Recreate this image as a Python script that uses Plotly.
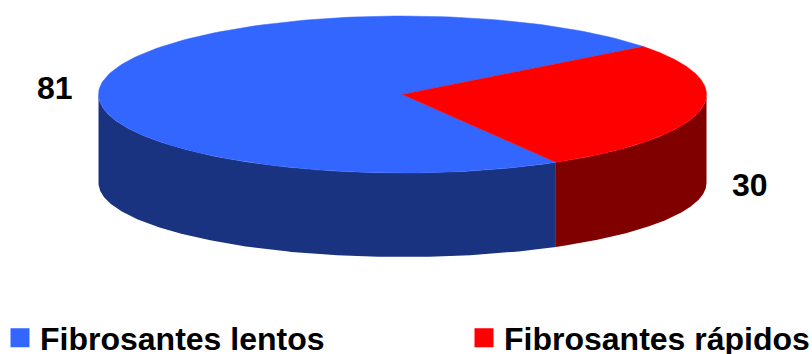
import math
import plotly.graph_objects as go

# ---- data ----
categories = ["Fibrosantes lentos", "Fibrosantes rápidos"]
values = [81, 30]
top_colors = ["#3366FF", "#FF0000"]
side_colors = ["#1A3380", "#800000"]

# ---- geometry (pixel space) ----
W, H = 812, 354
cx, cy = 402.5, 94.5
rx, ry = 304.0, 78.5
cy_b, ry_b = 183.0, 74.0      # bottom ellipse (slight perspective)
start_deg = 37.6              # first slice starts here, counter-clockwise

total = sum(values)
angles = []
a = start_deg
for v in values:
    span = v / total * 360.0
    angles.append((a, a + span))
    a += span


def top_pt(t):
    r = math.radians(t)
    return cx + rx * math.cos(r), cy - ry * math.sin(r)


def bot_pt(t):
    r = math.radians(t)
    return cx + rx * math.cos(r), cy_b - ry_b * math.sin(r)


def arc(fn, a0, a1, n=200):
    xs, ys = [], []
    for i in range(n + 1):
        t = a0 + (a1 - a0) * i / n
        x, y = fn(t)
        xs.append(x)
        ys.append(y)
    return xs, ys


fig = go.Figure()

# side faces (front half: 180..360 degrees)
for (a0, a1), col in zip(angles, side_colors):
    segs = []
    for k in (-360, 0, 360):
        lo = max(a0 + k, 180)
        hi = min(a1 + k, 360)
        if hi > lo:
            segs.append((lo, hi))
    for lo, hi in segs:
        xt, yt = arc(top_pt, lo, hi)
        xb, yb = arc(bot_pt, hi, lo)
        fig.add_trace(go.Scatter(x=xt + xb + [xt[0]], y=yt + yb + [yt[0]],
                                 mode="lines", fill="toself", fillcolor=col,
                                 line=dict(width=0, color=col),
                                 hoverinfo="skip", showlegend=False))

# top faces
for (a0, a1), col in zip(angles, top_colors):
    xs, ys = arc(top_pt, a0, a1)
    fig.add_trace(go.Scatter(x=[cx] + xs + [cx], y=[cy] + ys + [cy],
                             mode="lines", fill="toself", fillcolor=col,
                             line=dict(width=0.5, color=col),
                             hoverinfo="skip", showlegend=False))

# value labels
for (a0, a1), v in zip(angles, values):
    mid = math.radians((a0 + a1) / 2)
    lx = cx + 1.165 * rx * math.cos(mid)
    ly = cy - 251 * math.sin(mid) + 42
    fig.add_annotation(x=lx, y=ly, text=str(v), showarrow=False,
                       font=dict(family="Liberation Sans", size=32, color="black", weight="bold"),
                       xanchor="center", yanchor="middle")

# legend entries (one legend per entry to place them freely)
legend_ids = ["legend", "legend2"]
for name, col, lg in zip(categories, top_colors, legend_ids):
    fig.add_trace(go.Scatter(x=[None], y=[None], mode="markers", name=name,
                             legend=lg,
                             marker=dict(symbol="square", size=16, color=col,
                                         line=dict(width=3, color=col))))

leg_font = dict(family="Liberation Sans", size=32, color="black", weight="bold")
leg_common = dict(orientation="h", xanchor="left", y=0.045, yanchor="middle",
                  font=leg_font, bgcolor="rgba(0,0,0,0)", itemwidth=30,
                  borderwidth=0)

fig.update_layout(
    width=W, height=H,
    margin=dict(l=0, r=0, t=0, b=0, autoexpand=False),
    paper_bgcolor="white", plot_bgcolor="white",
    xaxis=dict(range=[0, W], visible=False, fixedrange=True),
    yaxis=dict(range=[H, 0], visible=False, fixedrange=True),
    legend=dict(x=0.0, **leg_common),
    legend2=dict(x=464 / W, **leg_common),
    showlegend=True,
)

fig.write_html("out.html")
